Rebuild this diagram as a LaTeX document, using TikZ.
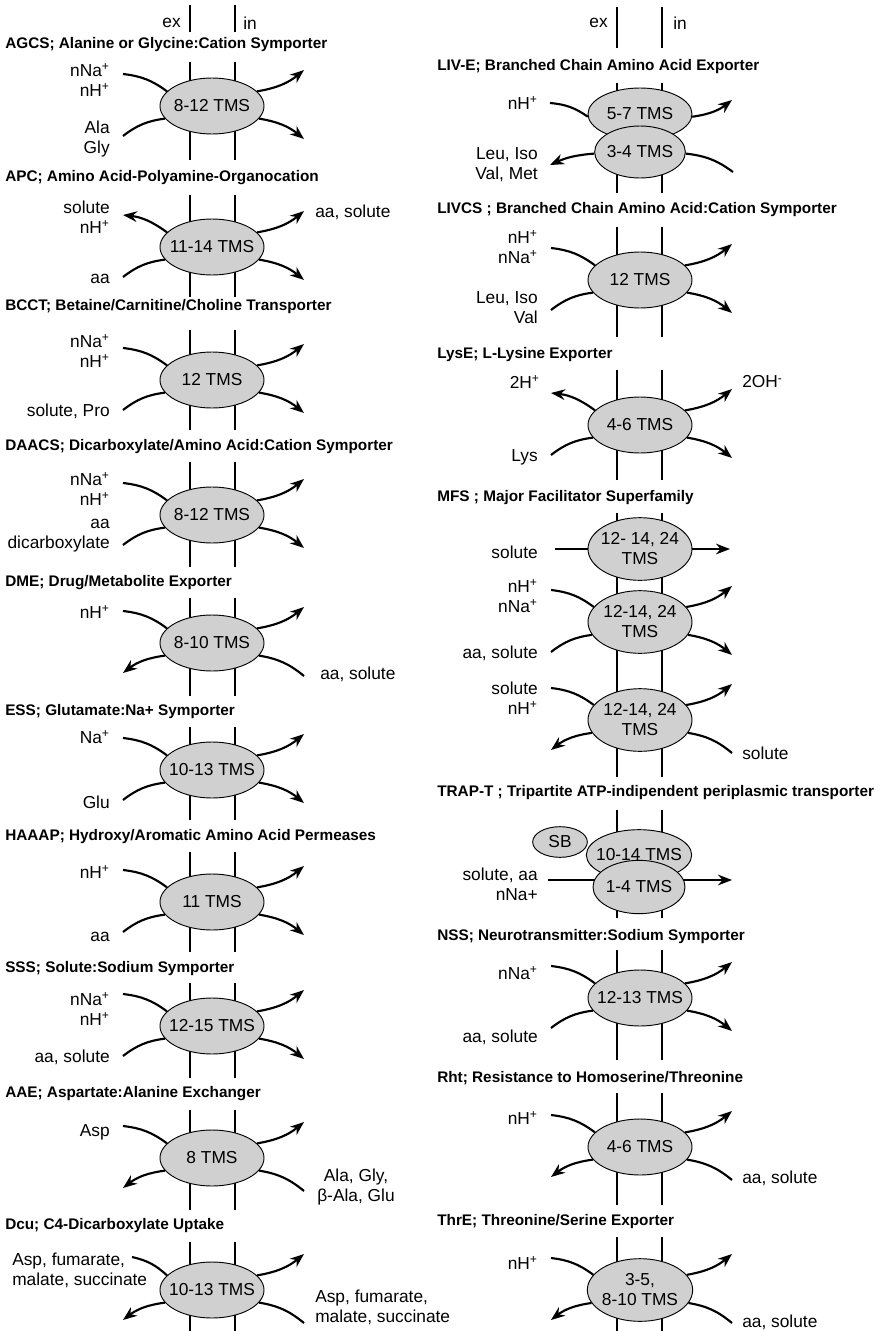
\documentclass[tikz,border=0pt]{standalone}
\usepackage{fontspec}
\setmainfont{Liberation Sans}
\usetikzlibrary{shapes.geometric, arrows.meta, positioning}
\definecolor{tmsgray}{RGB}{208,208,208}

\begin{document}
\begin{tikzpicture}[
    x=0.75pt, y=0.75pt,
    >={Stealth[length=10.5pt, width=8pt]},
    family/.style={anchor=west, inner sep=0pt, font=\fontsize{11.5}{13}\selectfont\bfseries},
    tms/.style={ellipse, draw, line width=0.7pt, fill=tmsgray, inner sep=0pt,
                minimum width=78pt, minimum height=42pt, label={[tmstext]center:{#1}}},
    tmstext/.style={align=center, inner sep=0pt, font=\fontsize{13}{15}\selectfont},
    sub/.style={inner sep=0pt, font=\fontsize{13}{15}\selectfont},
    lsub/.style={sub, anchor=east, align=right},
    rsub/.style={sub, anchor=west, align=left},
    flow/.style={line width=1.6pt},
    memb/.style={line width=1.1pt}
]
\useasboundingbox (0,0) rectangle (880,-1331);

% membranes
\foreach \ya/\yb in {5/32, 62/160, 195/297, 330/430, 462/567, 598/696, 727/820,
                     852/952, 983/1078, 1110/1210, 1242/1331}
  \draw[memb] (190,-\ya) -- (190,-\yb) (235,-\ya) -- (235,-\yb);
\foreach \ya/\yb in {7/48, 83/193, 227/337, 370/480, 513/777, 810/918,
                     950/1060, 1093/1205, 1237/1331}
  \draw[memb] (617,-\ya) -- (617,-\yb) (662,-\ya) -- (662,-\yb);

\node[lsub] (exl) at (181,-23) {ex};
\node[rsub] (inl) at (243,-23) {in};
\node[lsub] (exr) at (608,-23) {ex};
\node[rsub] (inr) at (673,-23) {in};

% straight uniport arrows (behind the ellipses)
\coordinate (mfsa-ul) at (555,-549);
\coordinate (mfsa-ur) at (730,-549);
\coordinate (trap-ul) at (548,-880);
\coordinate (trap-ur) at (732,-880);
\draw[flow,->] (mfsa-ul) -- (mfsa-ur);
\draw[flow,->] (trap-ul) -- (trap-ur);

% families, left column
\node[family] (agcs-t)  at (5,-45)   {AGCS; Alanine or Glycine:Cation Symporter};
\node[family] (apc-t)   at (5,-178)  {APC; Amino Acid-Polyamine-Organocation};
\node[family] (bcct-t)  at (5,-307)  {BCCT; Betaine/Carnitine/Choline Transporter};
\node[family] (daacs-t) at (5,-447)  {DAACS; Dicarboxylate/Amino Acid:Cation Symporter};
\node[family] (dme-t)   at (5,-583)  {DME; Drug/Metabolite Exporter};
\node[family] (ess-t)   at (5,-712)  {ESS; Glutamate:Na+ Symporter};
\node[family] (haaap-t) at (5,-837)  {HAAAP; Hydroxy/Aromatic Amino Acid Permeases};
\node[family] (sss-t)   at (5,-969)  {SSS; Solute:Sodium Symporter};
\node[family] (aae-t)   at (5,-1094) {AAE; Aspartate:Alanine Exchanger};
\node[family] (dcu-t)   at (5,-1226) {Dcu; C4-Dicarboxylate Uptake};

% families, right column
\node[family] (live-t)  at (437,-67)   {LIV-E; Branched Chain Amino Acid Exporter};
\node[family] (livcs-t) at (437,-210)  {LIVCS ; Branched Chain Amino Acid:Cation Symporter};
\node[family] (lyse-t)  at (437,-355)  {LysE; L-Lysine Exporter};
\node[family] (mfs-t)   at (437,-498)  {MFS ; Major Facilitator Superfamily};
\node[family] (trap-t)  at (437,-793)  {TRAP-T ; Tripartite ATP-indipendent periplasmic transporter};
\node[family] (nss-t)   at (437,-937)  {NSS; Neurotransmitter:Sodium Symporter};
\node[family] (rht-t)   at (437,-1078) {Rht; Resistance to Homoserine/Threonine};
\node[family] (thre-t)  at (437,-1222) {ThrE; Threonine/Serine Exporter};

% transporters
\node[tms={8-12 TMS}]  (agcs)  at (212,-106)  {};
\node[tms={11-14 TMS}] (apc)   at (212,-247)  {};
\node[tms={12 TMS}]    (bcct)  at (212,-380)  {};
\node[tms={8-12 TMS}]  (daacs) at (212,-515)  {};
\node[tms={8-10 TMS}]  (dme)   at (212,-643)  {};
\node[tms={10-13 TMS}] (ess)   at (212,-770)  {};
\node[tms={11 TMS}]    (haaap) at (212,-902)  {};
\node[tms={12-15 TMS}] (sss)   at (212,-1026) {};
\node[tms={8 TMS}]     (aae)   at (212,-1158) {};
\node[tms={10-13 TMS}] (dcu)   at (212,-1290) {};

\node[tms={5-7 TMS}, minimum height=39pt] (live) at (640,-114) {};
\node[tms={3-4 TMS}, minimum width=68pt, minimum height=39pt] (liveb) at (640,-152) {};
\node[tms={12 TMS}]    (livcs) at (640,-280) {};
\node[tms={4-6 TMS}]   (lyse)  at (640,-425) {};
\node[tms={12- 14, 24\\TMS}, minimum height=47pt] (mfsa) at (640,-549) {};
\node[tms={12-14, 24\\TMS}, minimum height=47pt]  (mfsb) at (640,-622) {};
\node[tms={12-14, 24\\TMS}, minimum height=47pt]  (mfsc) at (640,-720) {};
\node[tms={10-14 TMS}, minimum width=79pt, minimum height=38pt] (trap)  at (639,-855) {};
\node[tms={1-4 TMS}, minimum width=69pt, minimum height=40pt]   (trapb) at (639,-887) {};
\node[tms=SB, minimum width=41pt, minimum height=23pt] (sb) at (560,-842) {};
\node[tms={12-13 TMS}] (nss)   at (640,-998)  {};
\node[tms={4-6 TMS}]   (rht)   at (640,-1147) {};
\node[tms={3-5,\\8-10 TMS}, minimum width=79pt, minimum height=47pt] (thre) at (640,-1290) {};

% free ends of the curved flows
\foreach \tp in {agcs,apc,bcct,daacs,dme,ess,haaap,sss,aae,dcu,livcs,lyse,mfsb,mfsc,nss,rht,thre} {
  \coordinate (\tp-ul) at ([shift={(-89,32)}]\tp.center);
  \coordinate (\tp-ur) at ([shift={(92,36)}]\tp.center);
  \coordinate (\tp-ll) at ([shift={(-89,-30)}]\tp.center);
  \coordinate (\tp-lr) at ([shift={(92,-33)}]\tp.center);
}
\coordinate (dcu-ul) at (132,-1257);
\coordinate (live-ul) at (550,-103);
\coordinate (live-ur) at (732,-100);
\coordinate (live-ll) at (550,-165);
\coordinate (live-lr) at (733,-172);

% symport
\foreach \tp in {agcs,bcct,daacs,ess,haaap,sss,livcs,mfsb,nss} {
  \draw[flow] (\tp-ul) to[bend left=15] (\tp.162);
  \draw[flow,->] (\tp.18) to[bend right=15] (\tp-ur);
  \draw[flow] (\tp-ll) to[bend left=15] (\tp.195);
  \draw[flow,->] (\tp.345) to[bend left=15] (\tp-lr);
}
% antiport
\foreach \tp in {dme,aae,dcu,mfsc,rht,thre} {
  \draw[flow] (\tp-ul) to[bend left=15] (\tp.162);
  \draw[flow,->] (\tp.18) to[bend right=15] (\tp-ur);
  \draw[flow,<-] (\tp-ll) to[bend left=15] (\tp.195);
  \draw[flow] (\tp.345) to[bend left=15] (\tp-lr);
}
% both upper flows outward
\foreach \tp in {apc,lyse} {
  \draw[flow,<-] (\tp-ul) to[bend left=15] (\tp.162);
  \draw[flow,->] (\tp.18) to[bend right=15] (\tp-ur);
  \draw[flow] (\tp-ll) to[bend left=15] (\tp.195);
  \draw[flow,->] (\tp.345) to[bend left=15] (\tp-lr);
}
\draw[flow] (live-ul) to[bend left=15] (live.183);
\draw[flow,->] (live.357) to[bend right=15] (live-ur);
\draw[flow,<-] (live-ll) to[bend left=10] (liveb.182);
\draw[flow] (liveb.358) to[bend left=15] (live-lr);

% substrates, left column
\node[lsub] (agcs-a)  at (110,-80)  {nNa\textsuperscript{+}\\nH\textsuperscript{+}};
\node[lsub] (agcs-b)  at (110,-139) {Ala\\Gly};
\node[lsub] (apc-a)   at (110,-217) {solute\\nH\textsuperscript{+}};
\node[rsub] (apc-c)   at (315,-212) {aa, solute};
\node[lsub] (apc-b)   at (110,-279) {aa};
\node[lsub] (bcct-a)  at (110,-351) {nNa\textsuperscript{+}\\nH\textsuperscript{+}};
\node[lsub] (bcct-b)  at (110,-411) {solute, Pro};
\node[lsub] (daacs-a) at (110,-489) {nNa\textsuperscript{+}\\nH\textsuperscript{+}};
\node[lsub] (daacs-b) at (110,-536) {aa\\dicarboxylate};
\node[lsub] (dme-a)   at (110,-612) {nH\textsuperscript{+}};
\node[rsub] (dme-d)   at (320,-674) {aa, solute};
\node[lsub] (ess-a)   at (110,-737) {Na\textsuperscript{+}};
\node[lsub] (ess-b)   at (110,-802) {Glu};
\node[lsub] (haaap-a) at (110,-872) {nH\textsuperscript{+}};
\node[lsub] (haaap-b) at (110,-937) {aa};
\node[lsub] (sss-a)   at (110,-1009) {nNa\textsuperscript{+}\\nH\textsuperscript{+}};
\node[lsub] (sss-b)   at (110,-1057) {aa, solute};
\node[lsub] (aae-a)   at (110,-1132) {Asp};
\node[rsub, align=center] (aae-d) at (317,-1187) {Ala, Gly,\\β-Ala, Glu};
\node[rsub] (dcu-a)   at (12,-1270)  {Asp, fumarate,\\malate, succinate};
\node[rsub] (dcu-d)   at (315,-1307) {Asp, fumarate,\\malate, succinate};

% substrates, right column
\node[lsub] (live-a)  at (538,-103) {nH\textsuperscript{+}};
\node[lsub] (live-b)  at (538,-165) {Leu, Iso\\Val, Met};
\node[lsub] (livcs-a) at (538,-247) {nH\textsuperscript{+}\\nNa\textsuperscript{+}};
\node[lsub] (livcs-b) at (538,-308) {Leu, Iso\\Val};
\node[lsub] (lyse-a)  at (540,-382) {2H\textsuperscript{+}};
\node[rsub] (lyse-c)  at (742,-382) {2OH\textsuperscript{-}};
\node[lsub] (lyse-b)  at (538,-457) {Lys};
\node[lsub] (mfsa-a)  at (538,-552) {solute};
\node[lsub] (mfsb-a)  at (538,-596) {nH\textsuperscript{+}\\nNa\textsuperscript{+}};
\node[lsub] (mfsb-b)  at (538,-653) {aa, solute};
\node[lsub] (mfsc-a)  at (538,-698) {solute\\nH\textsuperscript{+}};
\node[rsub] (mfsc-d)  at (742,-753) {solute};
\node[lsub] (trap-a)  at (538,-884) {solute, aa\\nNa+};
\node[lsub] (nss-a)   at (538,-973) {nNa\textsuperscript{+}};
\node[lsub] (nss-b)   at (538,-1037) {aa, solute};
\node[lsub] (rht-a)   at (538,-1118) {nH\textsuperscript{+}};
\node[rsub] (rht-d)   at (742,-1178) {aa, solute};
\node[lsub] (thre-a)  at (538,-1263) {nH\textsuperscript{+}};
\node[rsub] (thre-d)  at (742,-1322) {aa, solute};
\end{tikzpicture}
\end{document}
